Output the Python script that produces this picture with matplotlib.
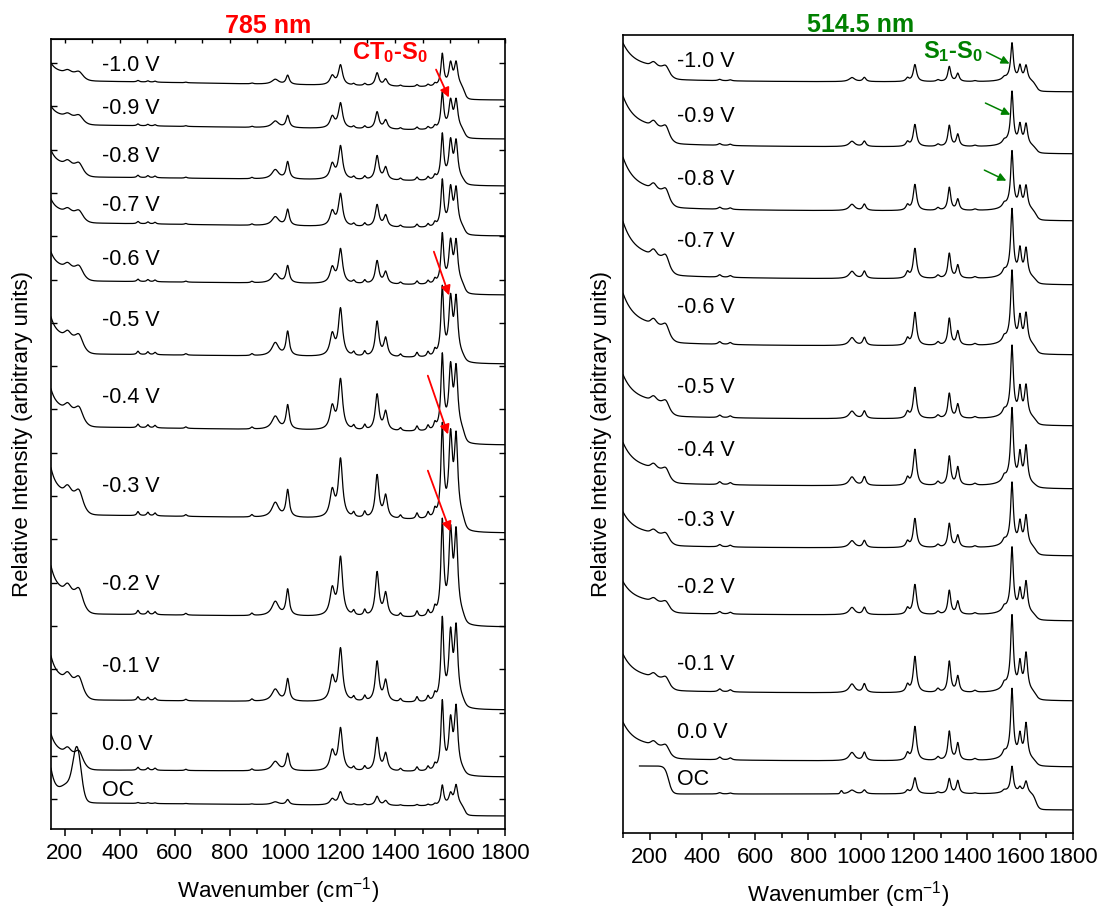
import numpy as np
import matplotlib
matplotlib.use('Agg')
import matplotlib.pyplot as plt
from matplotlib.ticker import MultipleLocator

plt.rcParams['font.family'] = ['Liberation Sans', 'DejaVu Sans']
plt.rcParams['mathtext.default'] = 'regular'

labels = ['-1.0 V', '-0.9 V', '-0.8 V', '-0.7 V', '-0.6 V', '-0.5 V',
          '-0.4 V', '-0.3 V', '-0.2 V', '-0.1 V', '0.0 V', 'OC']

# ---- 785 nm spectra (arbitrary units, stacked) ----
nir_end = [729, 690, 643, 593, 534, 465, 384, 296, 202, 119, 52, 13]
nir_plateau = [748, 704, 652, 606, 548, 475, 402, 314, 215, 129, 59, 26]
nir_local = [742, 699, 648, 601, 544, 471, 397, 309, 211, 126, 57, 23]
nir_start = [766, 723, 679, 630, 577, 512, 440, 361, 263, 173, 95, 59]
nir_1572 = [32, 36, 45, 46, 49, 68, 74, 91, 93, 81, 68, 20]
nir_1602 = [22, 27, 37, 37, 40, 55, 60, 78, 80, 64, 47, 11]
nir_1622 = [23, 28, 37, 37, 41, 56, 60, 78, 80, 71, 61, 20]
nir_1202 = [20, 25, 33, 32, 34, 47, 50, 58, 58, 52, 42, 13]
nir_1335 = [13, 17, 24, 22, 23, 35, 36, 43, 44, 40, 33, 9]
nir_1010 = [9, 12, 17, 16, 17, 24, 24, 27, 26, 22, 17, 5]
nir_label_y = [764, 721, 673, 624, 570, 509, 432, 343, 245, 163, 85, 39]
# small bands, relative to the 1202 band
nir_minor_pos = [466, 502, 528, 640, 880, 1250, 1290, 1420, 1480, 1520, 1545]
nir_minor_rel = [0.07, 0.06, 0.05, 0.03, 0.04, 0.08, 0.10, 0.06, 0.10, 0.10, 0.12]

# ---- 514.5 nm spectra ----
vis_end = [741, 679, 612, 548, 478, 407, 344, 277, 212, 132, 66, 23]
vis_plateau = [751, 686, 622, 554, 487, 414, 347, 285, 218, 140, 72, 39]
vis_start = [793, 741, 680, 616, 544, 462, 394, 324, 254, 182, 114, 67]
vis_first_wn = [100, 100, 100, 100, 100, 100, 100, 100, 100, 100, 100, 162]
vis_1570 = [35, 50, 54, 63, 68, 66, 70, 59, 61, 70, 65, 25]
vis_1600 = [14, 19, 20, 26, 25, 27, 28, 22, 21, 26, 22, 5]
vis_1623 = [15, 21, 23, 28, 30, 31, 37, 30, 31, 37, 35, 12]
vis_1203 = [17, 22, 26, 30, 33, 31, 36, 29, 30, 36, 34, 16]
vis_1333 = [15, 21, 23, 25, 27, 25, 29, 24, 24, 31, 29, 15]
vis_1365 = [8, 12, 11, 13, 14, 14, 18, 12, 13, 16, 17, 13]
vis_label_y = [771, 716, 653, 591, 525, 445, 382, 312, 245, 168, 100, 53]
vis_minor_pos = [465, 505, 965, 1012, 1175, 1290, 1430, 1540]
vis_minor_rel = [0.08, 0.06, 0.24, 0.24, 0.2, 0.1, 0.05, 0.12]


def lor(x, x0, hw):
    return 1.0 / (1.0 + ((x - x0) / hw) ** 2)


def gauss(x, x0, s):
    return np.exp(-0.5 * ((x - x0) / s) ** 2)


def sig(z):
    return 1.0 / (1.0 + np.exp(-z))


fig = plt.figure(figsize=(10.97, 9.08), dpi=100)
ax1 = fig.add_axes([0.0465, 0.087, 0.4139, 0.870])
ax2 = fig.add_axes([0.568, 0.0826, 0.410, 0.879])

# left panel
x = np.linspace(150, 1800, 1651)
for i, lab in enumerate(labels):
    step = sig((1652 - x) / 5)
    y = nir_end[i] + (nir_plateau[i] - nir_end[i]) * step
    y -= (nir_plateau[i] - nir_local[i]) * np.clip((x - 300) / 1180, 0, 1) * step
    rise = nir_start[i] - nir_plateau[i]
    if lab == 'OC':
        y += rise * np.exp(-(x - 150) / 20) + 45 * gauss(x, 245, 14) + 18 * gauss(x, 215, 30)
    else:
        y += rise * (0.5 * np.exp(-(x - 150) / 20) + 0.5 * sig((268 - x) / 10)
                     + 0.12 * gauss(x, 210, 9) + 0.12 * gauss(x, 252, 9))
    y += 0.55 * nir_1010[i] * lor(x, 965, 15) + nir_1010[i] * lor(x, 1010, 7)
    y += 0.45 * nir_1202[i] * lor(x, 1172, 10) + nir_1202[i] * lor(x, 1202, 9)
    y += nir_1335[i] * lor(x, 1335, 8) + 0.52 * nir_1335[i] * lor(x, 1366, 8)
    y += nir_1572[i] * lor(x, 1572, 6) + nir_1602[i] * lor(x, 1602, 7.5) + nir_1622[i] * lor(x, 1622, 7.5)
    for p, r in zip(nir_minor_pos, nir_minor_rel):
        y += r * nir_1202[i] * lor(x, p, 5)
    ax1.plot(x, y, color='black', lw=0.9)
    ax1.text(335, nir_label_y[i], lab, fontsize=15.5, va='center', ha='left')

# right panel
for i, lab in enumerate(labels):
    x = np.linspace(vis_first_wn[i], 1800, 1801 - vis_first_wn[i])
    step = sig((1660 - x) / 6)
    y = vis_end[i] + (vis_plateau[i] - vis_end[i]) * step
    rise = vis_start[i] - vis_plateau[i]
    if lab == 'OC':
        y += rise * sig((272 - x) / 7) + 3 * gauss(x, 925, 4)
    else:
        y += rise * (0.5 * np.exp(-(x - 100) / 40) + 0.3 * sig((275 - x) / 10)
                     + 0.12 * np.exp(-(x - 100) / 250)
                     + 0.08 * gauss(x, 215, 9) + 0.08 * gauss(x, 262, 9))
    y += vis_1203[i] * lor(x, 1203, 7.5) + vis_1333[i] * lor(x, 1333, 6.5) + vis_1365[i] * lor(x, 1365, 6.5)
    y += vis_1570[i] * lor(x, 1570, 6) + vis_1600[i] * lor(x, 1600, 6.5) + vis_1623[i] * lor(x, 1623, 7)
    y += 0.1 * vis_1570[i] * lor(x, 1560, 30)
    for p, r in zip(vis_minor_pos, vis_minor_rel):
        hw = 13 if p == 965 else 7
        y += r * vis_1203[i] * lor(x, p, hw)
    ax2.plot(x, y, color='black', lw=0.9)
    ax2.text(304, vis_label_y[i], lab, fontsize=15.5, va='center', ha='left')

red = '#ff0000'
green = '#008000'
for (xs, ys, xe, ye) in [(1545, 762, 1600, 729), (1538, 580, 1600, 531),
                         (1516, 456, 1596, 392), (1516, 361, 1604, 295)]:
    ax1.annotate('', xy=(xe, ye), xytext=(xs, ys),
                 arrowprops=dict(arrowstyle='-|>', color=red, lw=1.3, mutation_scale=14))
for (xs, ys, xe, ye) in [(1464, 782, 1570, 768), (1460, 731, 1573, 717), (1456, 664, 1558, 651)]:
    ax2.annotate('', xy=(xe, ye), xytext=(xs, ys),
                 arrowprops=dict(arrowstyle='-|>', color=green, lw=1.1, mutation_scale=12))

ax1.text(1244, 776, 'CT$_0$-S$_0$', color=red, fontsize=17, fontweight='bold', va='center')
ax2.text(1233, 781, 'S$_1$-S$_0$', color=green, fontsize=17, fontweight='bold', va='center')

fig.text(0.2443, 0.971, '785 nm', color=red, fontsize=18, fontweight='bold', ha='center', va='center')
fig.text(0.7849, 0.973, '514.5 nm', color=green, fontsize=18, fontweight='bold', ha='center', va='center')

for ax, xl in [(ax1, 150), (ax2, 100)]:
    ax.set_xlim(xl, 1800)
    ax.xaxis.set_major_locator(MultipleLocator(200))
    ax.xaxis.set_minor_locator(MultipleLocator(100))
    ax.tick_params(axis='x', which='major', direction='out', length=5, width=1.1, labelsize=16, pad=5)
    ax.tick_params(axis='x', which='minor', direction='out', length=3.5, width=1.1)
    ax.set_xlabel('Wavenumber (cm$^{-1}$)', fontsize=16, labelpad=8)
    ax.set_ylabel('Relative Intensity (arbitrary units)', fontsize=16)
    for s in ax.spines.values():
        s.set_linewidth(1.2)

ax1.set_ylim(0, 790)
ax1.set_yticks(np.arange(766, 0, -43.3))
ax1.tick_params(axis='y', which='both', direction='in', left=True, right=True, labelleft=False, length=4, width=1)
top = ax1.secondary_xaxis('top')
top.xaxis.set_major_locator(MultipleLocator(100))
top.tick_params(axis='x', direction='in', length=3, width=1, labeltop=False)
ax1.yaxis.set_label_coords(-0.04, 0.5)

ax2.set_ylim(0, 798)
ax2.set_yticks([])
ax2.yaxis.set_label_coords(-0.025, 0.5)

fig.savefig('out.png', dpi=100)
